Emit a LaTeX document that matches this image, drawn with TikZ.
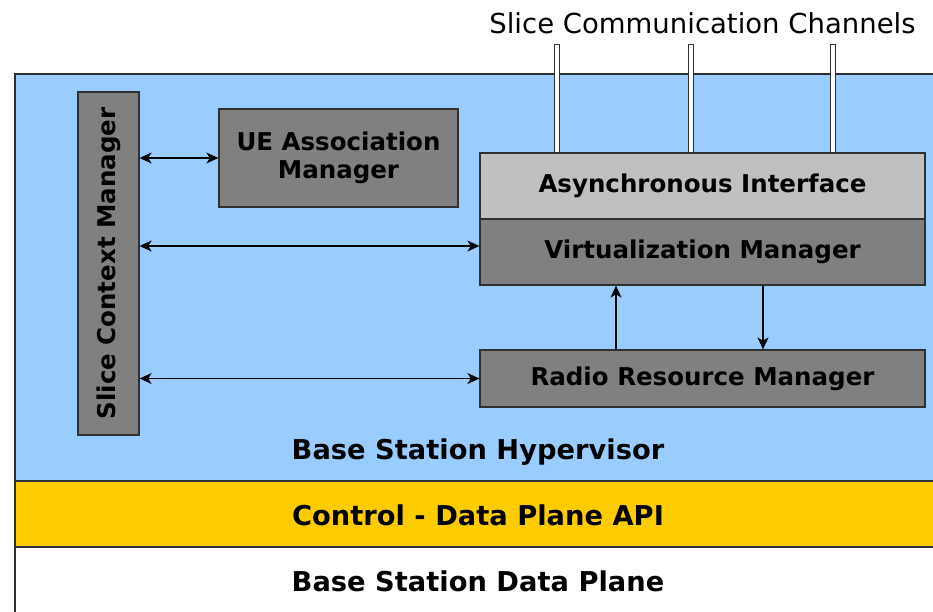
\documentclass[tikz,border=0pt]{standalone}
\usepackage{fontspec}
\setmainfont{DejaVu Sans}
\usetikzlibrary{arrows.meta}
\definecolor{hypblue}{HTML}{99CCFF}
\definecolor{apiyellow}{HTML}{FFCC00}
\definecolor{boxgray}{HTML}{808080}
\definecolor{ifgray}{HTML}{C0C0C0}
\definecolor{edgegray}{HTML}{303030}
\tikzset{
  module/.style={draw=edgegray,line width=1.3pt,fill=boxgray,rectangle,inner sep=0pt,
    font=\fontsize{24.5}{28.5}\selectfont\bfseries,align=center},
  layer/.style={draw=edgegray,line width=1.3pt},
  layertext/.style={anchor=base,font=\fontsize{27.3}{32}\selectfont\bfseries},
  link/.style={line width=1.2pt,>={Stealth[length=12pt,width=11pt,inset=3.5pt]}},
  channel/.style={draw=edgegray,line width=1pt,fill=white}
}
\begin{document}
\begin{tikzpicture}[x=1pt,y=-1pt]
        \clip(0,0)rectangle(933,611);
        % layers of the base station
        \draw[layer,fill=hypblue](15,74)rectangle(941,481);
        \draw[layer,fill=apiyellow](15,481)rectangle(941,547);
        \draw[layer,fill=white](15,547)rectangle(941,630);
        \node[layertext](hyp)at(478,459){Base Station Hypervisor};
        \node[layertext](api)at(478,525){Control - Data Plane API};
        \node[layertext](dp)at(478,591){Base Station Data Plane};
        % slice channels
        \node[anchor=base,font=\fontsize{27.5}{32}\selectfont](title)at(702.5,33){Slice Communication Channels};
        \foreach \cx in {557,691,833}
            \draw[channel](\cx-2.5,44)rectangle(\cx+2.5,153);
        % hypervisor modules
        \node[module,rotate=90,minimum width=343pt,minimum height=61pt](scm)at(108.5,263.5){Slice Context Manager};
        \node[module,minimum width=239pt,minimum height=98pt](ue)at(338.5,158){UE Association\\Manager};
        \node[module,fill=ifgray,minimum width=445pt,minimum height=66pt](async)at(702.5,186){Asynchronous Interface};
        \node[module,minimum width=445pt,minimum height=66pt](vm)at(702.5,252){Virtualization Manager};
        \node[module,minimum width=445pt,minimum height=57pt](rrm)at(702.5,378.5){Radio Resource Manager};
        % connections (scm is turned, its south side faces right)
        \coordinate(vmin)at([yshift=6pt]vm.west);
        \draw[link,<->](scm.south|-ue.west)--(ue.west);
        \draw[link,<->](scm.south|-vmin)--(vmin);
        \draw[link,<->](scm.south|-rrm.west)--(rrm.west);
        \draw[link,->]([xshift=-86.5pt]rrm.north)--([xshift=-86.5pt]vm.south);
        \draw[link,->]([xshift=60.5pt]vm.south)--([xshift=60.5pt]rrm.north);
    \end{tikzpicture}
\end{document}
